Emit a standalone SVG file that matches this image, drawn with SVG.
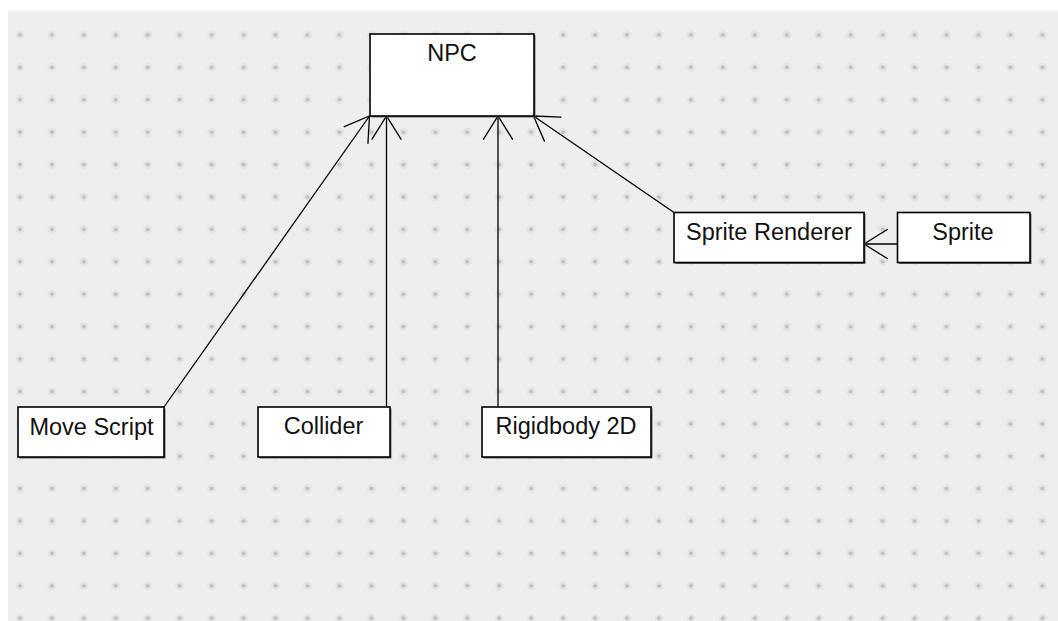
<svg xmlns="http://www.w3.org/2000/svg" width="1058" height="621" viewBox="0 0 1058 621">
  <defs>
    <!-- grid of dots on the canvas -->
    <pattern id="grid" patternUnits="userSpaceOnUse" x="4.025" y="18.8" width="31.95" height="32.4">
      <circle cx="15.975" cy="16.2" r="4.5" fill="#e5e5e5"/>
      <circle cx="15.975" cy="16.2" r="2" fill="#c0c0c0"/>
    </pattern>
    <!-- open V arrowhead -->
    <marker id="open" markerUnits="userSpaceOnUse" markerWidth="30" markerHeight="34" viewBox="-26 -17 28 34" refX="0" refY="0" orient="auto" overflow="visible">
      <path d="M-23.7,-14.8 L0,0 L-23.7,14.8" fill="none" stroke="#000" stroke-width="1.3"/>
    </marker>
    <style>
      .box { fill: #ffffff; stroke: #000000; stroke-width: 1.6; }
      .shadow { fill: #6a6a6a; }
      .label { font-family: "Liberation Sans", Arial, sans-serif; font-size: 23.5px; fill: #111111; text-anchor: middle; }
      .edge { fill: none; stroke: #000000; stroke-width: 1.3; marker-end: url(#open); }
    </style>
  </defs>

  <!-- canvas -->
  <rect x="0" y="0" width="1058" height="621" fill="#ffffff"/>
  <rect x="8" y="11" width="1050" height="610" fill="#eeeeee"/>
  <rect x="8" y="11" width="1050" height="610" fill="url(#grid)"/>

  <!-- connectors -->
  <g id="connectors">
    <path class="edge" d="M164,407 L369.5,116"/>
    <path class="edge" d="M386.5,407 L386.5,116"/>
    <path class="edge" d="M498,407 L498,116"/>
    <path class="edge" d="M674,212.5 L533.5,116"/>
    <path class="edge" d="M897.5,244 L864,244"/>
  </g>

  <!-- nodes -->
  <g id="npc">
    <rect class="shadow" x="371.5" y="35.5" width="164" height="82"/>
    <rect class="box" x="370" y="34" width="164" height="82"/>
    <text class="label" x="452" y="61">NPC</text>
  </g>

  <g id="move-script">
    <rect class="shadow" x="19.5" y="408.5" width="146" height="50"/>
    <rect class="box" x="18" y="407" width="146" height="50"/>
    <text class="label" x="91.5" y="435">Move Script</text>
  </g>

  <g id="collider">
    <rect class="shadow" x="259.5" y="408.5" width="132" height="50"/>
    <rect class="box" x="258" y="407" width="132" height="50"/>
    <text class="label" x="323.5" y="434">Collider</text>
  </g>

  <g id="rigidbody-2d">
    <rect class="shadow" x="483.5" y="408.5" width="169" height="50"/>
    <rect class="box" x="482" y="407" width="169" height="50"/>
    <text class="label" x="566" y="434">Rigidbody 2D</text>
  </g>

  <g id="sprite-renderer">
    <rect class="shadow" x="675.5" y="214" width="190" height="50"/>
    <rect class="box" x="674" y="212.5" width="190" height="50"/>
    <text class="label" x="769" y="239.5">Sprite Renderer</text>
  </g>

  <g id="sprite">
    <rect class="shadow" x="899" y="214" width="132.5" height="50"/>
    <rect class="box" x="897.5" y="212.5" width="132.5" height="50"/>
    <text class="label" x="963" y="239.5">Sprite</text>
  </g>
</svg>
